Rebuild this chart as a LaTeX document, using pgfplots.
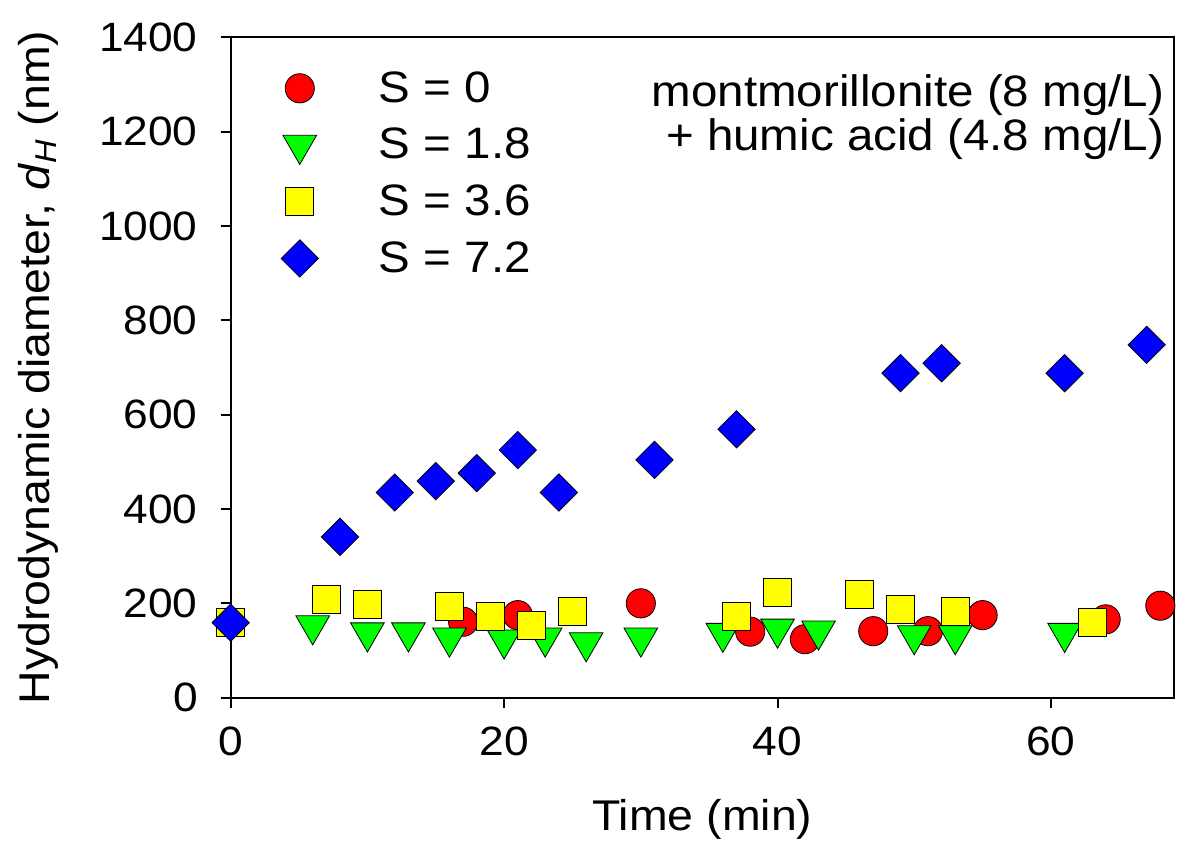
\documentclass[border=0pt]{standalone}
\usepackage{fontspec}
\setmainfont{Liberation Sans}[FakeStretch=1.08]
\usepackage{pgfplots}
\pgfplotsset{compat=1.18}

\definecolor{mred}{RGB}{255,0,0}
\definecolor{mgreen}{RGB}{0,255,0}
\definecolor{myellow}{RGB}{255,255,0}
\definecolor{mblue}{RGB}{0,0,255}

\begin{document}
\begin{tikzpicture}
    \useasboundingbox (-115.35pt,-81.15pt) rectangle (484.65pt,348.85pt);
    \begin{axis}[
            scale only axis,
            width=471.65pt,
            height=330.2pt,
            xmin=0, xmax=69,
            ymin=0, ymax=1400,
            xtick={0,20,40,60},
            ytick={0,200,...,1400},
            tick align=outside,
            tick pos=left,
            major tick length=5pt,
            axis line style={line width=1pt},
            every tick/.style={black, line width=1pt},
            font=\fontsize{20.5}{24}\selectfont,
            /pgf/number format/assume math mode=true,
            /pgf/number format/1000 sep={},
            yticklabel style={xshift=-8pt},
            xticklabel style={yshift=-6pt},
            xlabel={Time (min)},
            ylabel={Hydrodynamic diameter, \textit{d}\textsubscript{\textit{H}} (nm)},
            every axis x label/.style={at={(axis description cs:0.5,-0.2005)}, anchor=base,
                font=\fontsize{21.5}{24}\selectfont},
            every axis y label/.style={at={(axis description cs:-0.2035,0.5)}, anchor=center, rotate=90,
                font=\fontsize{21.5}{24}\selectfont},
            legend style={draw=none, fill=none, at={(rel axis cs:0.041,0.961)}, anchor=north west,
                font=\fontsize{22}{26}\selectfont, row sep=7.5pt},
            legend cell align=left,
            legend image code/.code={\path[draw=none] (-12pt,0pt) -- (37.5pt,0pt); \draw[#1] plot coordinates {(0pt,0pt)};},
            every axis plot/.append style={only marks, mark options={draw=black, line width=0.7pt}},
        ]
        % S = 0
        \addplot [mark=*, mark size=7.3pt, mark options={fill=mred}] coordinates {
                (17,161) (21,175) (30,200) (38,140) (42,124) (47,141)
                (51,141) (55,175) (64,166) (68,195)
            };
        \addlegendentry{S = 0}
        % S = 1.8
        \addplot [mark=triangle*, mark size=9.7pt, mark options={fill=mgreen, rotate=180}] coordinates {
                (6,153) (10,138) (13,138) (16,127) (20,123) (23,127) (26,117)
                (30,127) (36,137) (40,146) (43,142) (50,132) (53,132) (61,137)
            };
        \addlegendentry{S = 1.8}
        % S = 3.6
        \addplot [mark=square*, mark size=7pt, mark options={fill=myellow}] coordinates {
                (0,160) (7,209) (10,198) (16,193) (19,173) (22,153) (25,182)
                (37,173) (40,223) (46,220) (49,188) (53,182) (63,160)
            };
        \addlegendentry{S = 3.6}
        % S = 7.2
        \addplot [mark=square*, mark size=6.6pt, mark options={fill=mblue, rotate=45}] coordinates {
                (0,159) (8,341) (12,435) (15,459) (18,476) (21,525) (24,435)
                (31,504) (37,569) (49,688) (52,709) (61,688) (67,748)
            };
        \addlegendentry{S = 7.2}

        \node[anchor=base east, inner sep=0pt, font=\fontsize{22}{26}\selectfont] at (axis cs:68.3,1253) {montmorillonite (8 mg/L)};
        \node[anchor=base east, inner sep=0pt, font=\fontsize{22}{26}\selectfont] at (axis cs:68.3,1159) {+ humic acid (4.8 mg/L)};
    \end{axis}
\end{tikzpicture}
\end{document}
